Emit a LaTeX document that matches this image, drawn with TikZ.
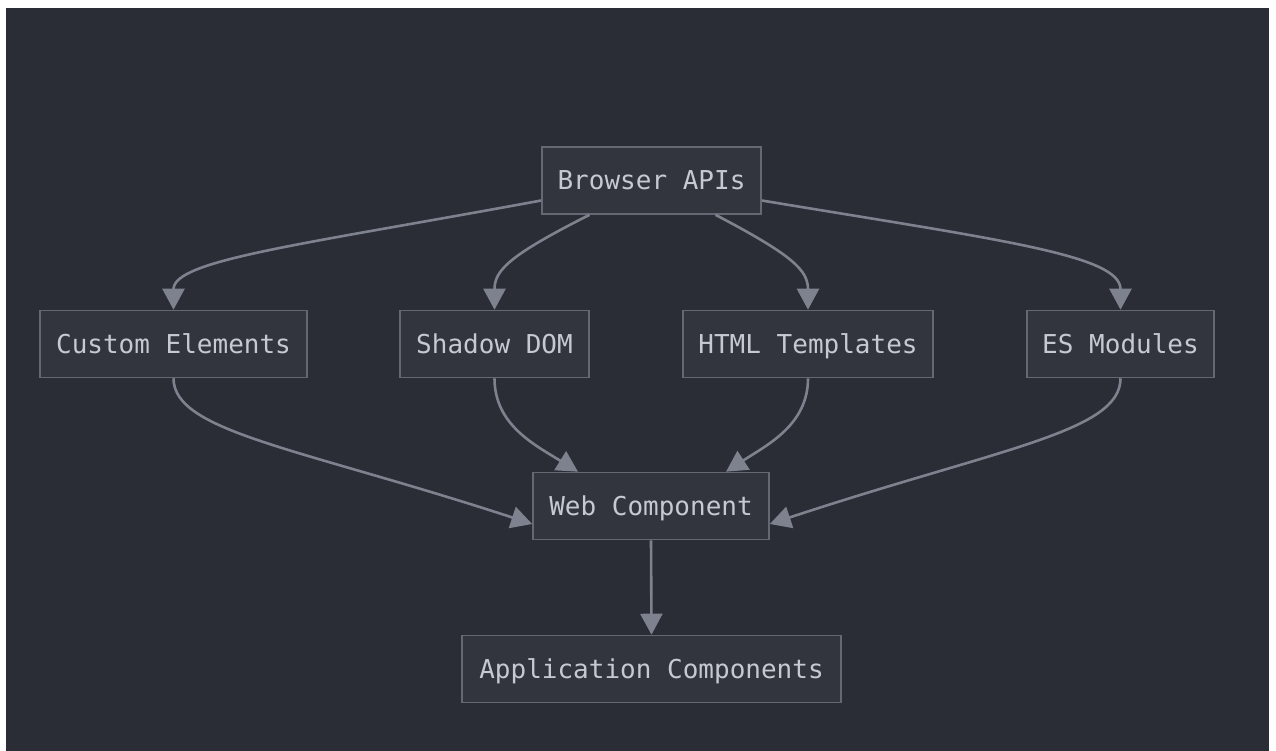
\documentclass[tikz,border=0pt]{standalone}
\usepackage{fontspec}
\setmonofont{DejaVu Sans Mono}
\usetikzlibrary{arrows.meta,calc}

\definecolor{canvas}{RGB}{42,45,53}
\definecolor{boxfill}{RGB}{50,53,62}
\definecolor{boxline}{RGB}{100,104,115}
\definecolor{labeltext}{RGB}{198,201,208}
\definecolor{edgeline}{RGB}{126,130,143}

\tikzset{
  block/.style={draw=boxline, line width=1.6pt, fill=boxfill, text=labeltext,
    font=\ttfamily\fontsize{26}{30}\selectfont, minimum height=67pt,
    text height=19pt, text depth=1pt,
    inner xsep=0pt, anchor=center},
  flow/.style={draw=edgeline, line width=2.6pt,
    -{Triangle[length=21pt,width=22pt]}},
}

\begin{document}
\begin{tikzpicture}[x=1pt,y=-1pt]
  \useasboundingbox (0,0) rectangle (1276,751);
  \fill[white] (0,0) rectangle (1276,751);
  \fill[canvas] (6,8) rectangle (1269,751);

  % nodes
  \node[block, minimum width=219pt] (browser) at (651.5,180.5) {Browser APIs};
  \node[block, minimum width=267pt] (custom)  at (173.5,344) {Custom Elements};
  \node[block, minimum width=189pt] (shadow)  at (494.5,344) {Shadow DOM};
  \node[block, minimum width=250pt] (html)    at (808,344)   {HTML Templates};
  \node[block, minimum width=187pt] (esm)     at (1120.5,344) {ES Modules};
  \node[block, minimum width=236pt] (web)     at (651,506)   {Web Component};
  \node[block, minimum width=379pt] (app)     at (651.5,669) {Application Components};

  % Browser APIs fan-out
  \draw[flow] ([yshift=-20pt]browser.east -| browser.west)
    .. controls (300,245) and (custom.north |- 0,260) .. (custom.north);
  \draw[flow] ([xshift=-62pt]browser.south)
    .. controls (510,255) and (shadow.north |- 0,270) .. (shadow.north);
  \draw[flow] ([xshift=64pt]browser.south)
    .. controls (792,255) and (html.north |- 0,270) .. (html.north);
  \draw[flow] ([yshift=-20pt]browser.east)
    .. controls (1000,240) and (esm.north |- 0,255) .. (esm.north);

  % merge into Web Component
  \draw[flow] (custom.south)
    .. controls (custom.south |- 0,432) and (300,448) .. ([yshift=-18pt]web.west);
  \draw[flow] (shadow.south)
    .. controls (shadow.south |- 0,425) and (535,445) .. ([xshift=-73pt]web.north);
  \draw[flow] (html.south)
    .. controls (html.south |- 0,425) and (767,445) .. ([xshift=75pt]web.north);
  \draw[flow] (esm.south)
    .. controls (esm.south |- 0,432) and (1000,448) .. ([yshift=-18pt]web.east);

  % Web Component to applications
  \draw[flow] (web.south) -- (app.north);
\end{tikzpicture}
\end{document}
